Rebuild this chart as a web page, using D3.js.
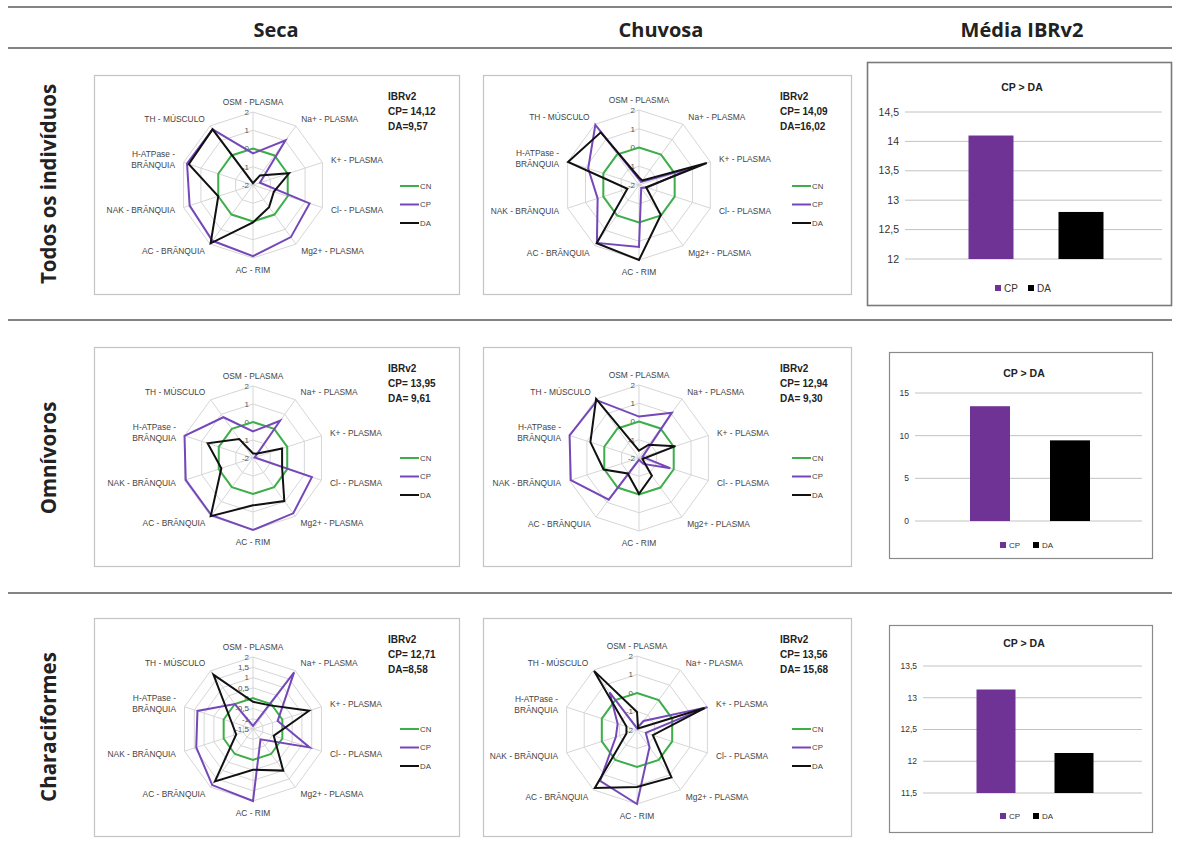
<!DOCTYPE html>
<html><head><meta charset="utf-8">
<script src="https://cdn.jsdelivr.net/npm/d3@7"></script>
<style>body{margin:0;background:#fff} svg{display:block}</style>
</head><body>
<svg id="c" width="1178" height="860"></svg>
<script>
// ---------- DATA ----------
const columnHeaders = ["Seca", "Chuvosa", "Média IBRv2"];
const rowHeaders = ["Todos os indivíduos", "Omnívoros", "Characiformes"];
const categories = ["OSM - PLASMA","Na+ - PLASMA","K+ - PLASMA","Cl- - PLASMA","Mg2+ - PLASMA",
  "AC - RIM","AC - BRÂNQUIA","NAK - BRÂNQUIA","H-ATPase - BRÂNQUIA","TH - MÚSCULO"];
const seriesNames = ["CN", "CP", "DA"];
const cnValues = [0,0,0,0,0,0,0,0,0,0];

const todosSecaCP = [-0.27, 1.03, -1.6, 1.26, 1.53, 1.9, 1.78, 1.65, 1.8, 1.77];
const todosSecaDA = [-1.9, -1.35, 0.08, -0.8, -0.5, 0.05, 1.95, 0.0, 1.7, 1.77];
const todosChuvCP = [-1.7, -1.8, 1.0, -1.55, -1.8, 1.3, 1.82, 0.32, 0.85, 1.96];
const todosChuvDA = [-1.6, -1.7, 1.8, -1.6, -0.02, 2.0, 1.84, -1.35, 1.98, 1.47];
const omniSecaCP = [-0.52, 0.56, -1.9, 1.44, 1.8, 2.0, 1.93, 1.93, 2.0, 0.8];
const omniSecaDA = [-1.75, -1.7, -0.3, -0.3, 0.96, 0.63, 2.0, -0.15, 0.65, -0.7];
const omniChuvCP = [0.27, 1.07, -1.8, -0.2, -1.6, -1.9, 0.82, 1.93, 2.0, 1.9];
const omniChuvDA = [-1.6, -1.1, 0.1, -1.8, -0.8, -0.04, -0.95, 0.04, 0.8, 2.0];
const characSecaCP = [-1.35, 1.9, -0.24, 1.4, -0.88, 2.0, 1.87, 1.4, 1.34, 0.0];
const characSecaDA = [-0.18, -0.08, 1.37, -0.44, 1.0, 0.48, 1.65, -0.64, -0.4, 1.77];
const characChuvCP = [-1.9, -1.4, 2.0, -1.5, -0.85, 2.0, 1.4, -0.8, -0.9, 0.52];
const characChuvDA = [-1.03, -1.9, 1.84, -1.1, 1.17, 1.08, 1.88, -1.4, -1.4, 1.95];

const ibrCP = ["14,12", "14,09", "13,95", "12,94", "12,71", "13,56"];
const ibrDA = ["9,57", "16,02", "9,61", "9,30", "8,58", "15,68"];

const barCategories = ["CP", "DA"];
const barCP = [14.1, 13.45, 13.13];
const barDA = [12.8, 9.45, 12.13];
const barTitle = "CP > DA";

// ---------- STYLE ----------
const colors = {CN: "#3dae49", CP: "#7547b9", DA: "#111111"};
const barColors = {CP: "#6e3394", DA: "#000000"};
const chartFont = "'Liberation Sans', Arial, sans-serif";
const headFont = "'Open Sans', 'Liberation Sans', sans-serif";

const svg = d3.select("#c");

// table lines
[7, 48, 320, 593].forEach(y => {
  svg.append("line").attr("x1", 8).attr("x2", 1172).attr("y1", y).attr("y2", y)
    .attr("stroke", "#5a5a5a").attr("stroke-width", 1.4);
});

// column headers
const headerX = [276, 661, 1022];
columnHeaders.forEach((h, i) => {
  svg.append("text").attr("x", headerX[i]).attr("y", 37).attr("text-anchor", "middle")
    .attr("font-family", headFont).attr("font-weight", "bold").attr("font-size", 20)
    .attr("fill", "#222").text(h);
});
// row headers
const rowY = [184, 458, 727];
rowHeaders.forEach((h, i) => {
  svg.append("text").attr("transform", `translate(56,${rowY[i]}) rotate(-90)`)
    .attr("text-anchor", "middle")
    .attr("font-family", headFont).attr("font-weight", "bold").attr("font-size", 20.5)
    .attr("fill", "#222").text(h);
});

// ---------- RADAR ----------
function radar(cfg) {
  const g = svg.append("g").attr("transform", `translate(${cfg.x},${cfg.y})`);
  g.append("rect").attr("x", 0.5).attr("y", 0.5).attr("width", cfg.w).attr("height", cfg.h)
    .attr("fill", "#fff").attr("stroke", "#c4c4c4").attr("stroke-width", 1.2);
  const c = g.append("g").attr("transform", `translate(${cfg.cx},${cfg.cy})`);
  const R = cfg.R;
  const r = d3.scaleLinear().domain([cfg.min, cfg.max]).range([0, R]).clamp(true);
  const n = categories.length;
  const ang = i => i * 2 * Math.PI / n;
  const ticks = d3.range(cfg.min, cfg.max + 1e-9, cfg.step);
  const ringLine = d3.lineRadial().angle((d, i) => ang(i)).radius(d => r(d)).curve(d3.curveLinearClosed);
  ticks.filter(t => t > cfg.min + 1e-9).forEach(t => {
    c.append("path").attr("d", ringLine(categories.map(() => t)))
      .attr("fill", "none").attr("stroke", "#d6d6d6").attr("stroke-width", 1);
  });
  categories.forEach((cat, i) => {
    c.append("line").attr("x1", 0).attr("y1", 0)
      .attr("x2", R * Math.sin(ang(i))).attr("y2", -R * Math.cos(ang(i)))
      .attr("stroke", "#d6d6d6").attr("stroke-width", 1);
  });
  // tick labels
  const fmt = v => d3.format("~g")(+v.toFixed(2)).replace(".", ",").replace("−", "-");
  ticks.forEach(t => {
    c.append("text").attr("x", -4).attr("y", -r(t)).attr("dy", "0.35em")
      .attr("text-anchor", "end").attr("font-family", chartFont).attr("font-size", 8)
      .attr("fill", "#555").text(fmt(t));
  });
  // category labels
  categories.forEach((cat, i) => {
    const a = ang(i), s = Math.sin(a), co = Math.cos(a);
    const L = R + 9;
    let x = L * s, y = -L * co;
    const anchor = s > 0.1 ? "start" : (s < -0.1 ? "end" : "middle");
    if (Math.abs(s) < 0.1) y += co > 0 ? -1 : 3;
    const lines = cat.length > 16 ? [cat.slice(0, cat.indexOf(" - ") + 2), cat.slice(cat.indexOf(" - ") + 3)] : [cat];
    const t = c.append("text").attr("text-anchor", anchor).attr("font-family", chartFont)
      .attr("font-size", 8.4).attr("fill", "#444");
    lines.forEach((ln, k) => {
      t.append("tspan").attr("x", x).attr("y", y + (k - (lines.length - 1) / 2) * 11)
        .attr("dy", "0.35em").text(ln);
    });
  });
  // series
  const serLine = d3.lineRadial().angle((d, i) => ang(i)).radius(d => r(d)).curve(d3.curveLinearClosed);
  const data = {CN: cnValues, CP: cfg.cp, DA: cfg.da};
  seriesNames.forEach(s => {
    c.append("path").attr("d", serLine(data[s])).attr("fill", "none")
      .attr("stroke", colors[s]).attr("stroke-width", 2).attr("stroke-linejoin", "miter");
  });
  // IBR text
  const ib = g.append("text").attr("font-family", chartFont).attr("font-weight", "bold")
    .attr("font-size", 10).attr("fill", "#222");
  ["IBRv2", "CP= " + cfg.ibr[0], "DA=" + cfg.ibr[1]].forEach((ln, k) => {
    ib.append("tspan").attr("x", cfg.w - 71).attr("y", 25 + k * 15).text(ln);
  });
  // legend
  seriesNames.forEach((s, k) => {
    const ly = 111 + k * 18.5;
    g.append("line").attr("x1", cfg.w - 59).attr("x2", cfg.w - 40).attr("y1", ly).attr("y2", ly)
      .attr("stroke", colors[s]).attr("stroke-width", 2);
    g.append("text").attr("x", cfg.w - 39).attr("y", ly).attr("dy", "0.35em")
      .attr("font-family", chartFont).attr("font-size", 7.8).attr("fill", "#444").text(s);
  });
}

const radarCfgs = [
  {x: 94, y: 75, w: 365, h: 219, cx: 159, cy: 110, R: 73, min: -2, max: 2, step: 1, cp: todosSecaCP, da: todosSecaDA, ibr: [ibrCP[0], ibrDA[0]]},
  {x: 483, y: 75, w: 368, h: 219, cx: 156, cy: 110, R: 75, min: -2, max: 2, step: 1, cp: todosChuvCP, da: todosChuvDA, ibr: [ibrCP[1], ibrDA[1]]},
  {x: 94, y: 347, w: 365, h: 219, cx: 159, cy: 111, R: 72, min: -2, max: 2, step: 1, cp: omniSecaCP, da: omniSecaDA, ibr: [ibrCP[2], " " + ibrDA[2]]},
  {x: 483, y: 347, w: 368, h: 219, cx: 156, cy: 111, R: 73, min: -2, max: 2, step: 1, cp: omniChuvCP, da: omniChuvDA, ibr: [ibrCP[3], " " + ibrDA[3]]},
  {x: 94, y: 618, w: 365, h: 218, cx: 159, cy: 111, R: 72, min: -1.5, max: 2, step: 0.5, cp: characSecaCP, da: characSecaDA, ibr: [ibrCP[4], ibrDA[4]]},
  {x: 483, y: 618, w: 368, h: 218, cx: 154, cy: 112, R: 74, min: -2, max: 2, step: 1, cp: characChuvCP, da: characChuvDA, ibr: [ibrCP[5], " " + ibrDA[5]]}
];
radarCfgs.forEach(radar);

// ---------- BARS ----------
function bar(cfg) {
  const g = svg.append("g");
  g.append("rect").attr("x", cfg.bx).attr("y", cfg.by).attr("width", cfg.bw).attr("height", cfg.bh)
    .attr("fill", "#fff").attr("stroke", cfg.border).attr("stroke-width", cfg.borderW);
  g.append("text").attr("x", cfg.titleX).attr("y", cfg.titleY).attr("dy", "0.35em")
    .attr("text-anchor", "middle").attr("font-family", chartFont).attr("font-weight", "bold")
    .attr("font-size", 10.5).attr("fill", "#222").text(barTitle);
  const y = d3.scaleLinear().domain(cfg.domain).range([cfg.y0, cfg.y1]);
  const ticks = d3.range(cfg.domain[0], cfg.domain[1] + 1e-9, cfg.step);
  ticks.forEach(t => {
    g.append("line").attr("x1", cfg.px0).attr("x2", cfg.px1).attr("y1", y(t)).attr("y2", y(t))
      .attr("stroke", "#c2c2c2").attr("stroke-width", 1);
    g.append("text").attr("x", cfg.px0 - 6).attr("y", y(t)).attr("dy", "0.35em")
      .attr("text-anchor", "end").attr("font-family", chartFont).attr("font-size", cfg.fs)
      .attr("fill", "#333").text(d3.format("~g")(+t.toFixed(2)).replace(".", ","));
  });
  const x = d3.scaleBand().domain(barCategories).range([cfg.xc - cfg.half, cfg.xc + cfg.half])
    .paddingInner(0.5).paddingOuter(0.25);
  const vals = {CP: barCP[cfg.idx], DA: barDA[cfg.idx]};
  barCategories.forEach(k => {
    g.append("rect").attr("x", x(k)).attr("width", x.bandwidth())
      .attr("y", y(vals[k])).attr("height", y(cfg.domain[0]) - y(vals[k]))
      .attr("fill", barColors[k]);
  });
  // legend
  barCategories.forEach((k, i) => {
    const lx = cfg.legX + i * 33;
    g.append("rect").attr("x", lx).attr("y", cfg.legY - 3).attr("width", 6).attr("height", 6)
      .attr("fill", barColors[k]);
    g.append("text").attr("x", lx + 9).attr("y", cfg.legY).attr("dy", "0.35em")
      .attr("font-family", chartFont).attr("font-size", cfg.fs - 0.5).attr("fill", "#333").text(k);
  });
}

const barCfgs = [
  {idx: 0, bx: 867.5, by: 62.5, bw: 304, bh: 243, border: "#7a7a7a", borderW: 1.6, titleX: 1022, titleY: 87,
   domain: [12, 14.5], step: 0.5, y0: 259, y1: 112, px0: 905, px1: 1162, xc: 1036, half: 90, fs: 10.5, legX: 995, legY: 288},
  {idx: 1, bx: 889.5, by: 352.5, bw: 263, bh: 206, border: "#8a8a8a", borderW: 1.2, titleX: 1024, titleY: 373,
   domain: [0, 15], step: 5, y0: 521, y1: 393, px0: 915, px1: 1142, xc: 1030, half: 80, fs: 8.5, legX: 1000, legY: 545},
  {idx: 2, bx: 889.5, by: 625.5, bw: 263, bh: 207, border: "#8a8a8a", borderW: 1.2, titleX: 1024, titleY: 643,
   domain: [11.5, 13.5], step: 0.5, y0: 793, y1: 666, px0: 923, px1: 1142, xc: 1035, half: 78, fs: 8.5, legX: 1000, legY: 816}
];
barCfgs.forEach(bar);
</script>
</body></html>
